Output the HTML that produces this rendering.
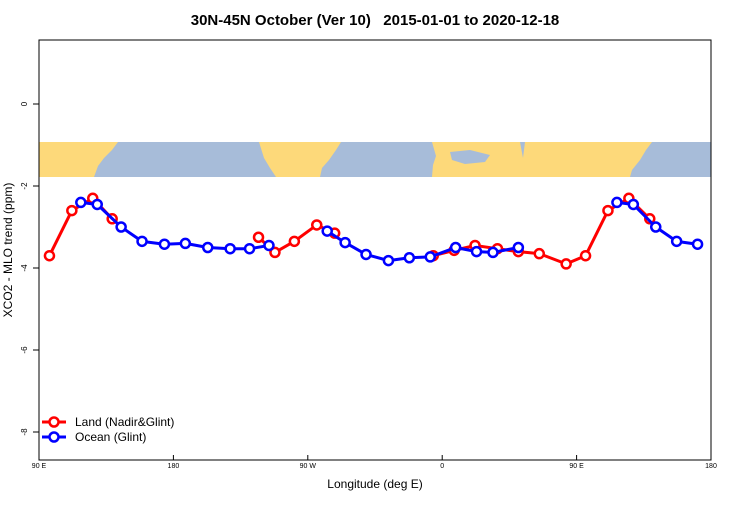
<!DOCTYPE html>
<html><head><meta charset="utf-8"><style>
body{margin:0;background:#fff}
svg{font-family:"Liberation Sans",sans-serif}
</style></head><body>
<svg width="750" height="500" viewBox="0 0 750 500">
<rect width="750" height="500" fill="#fff"/>
<text x="375" y="25" text-anchor="middle" font-size="15" font-weight="bold">30N-45N October (Ver 10)&#160;&#160; 2015-01-01 to 2020-12-18</text>
<g id="map">
<rect x="39" y="142" width="672" height="35" fill="#a7bcd9"/>
<path d="M39 142 H118 L112 150 L104 158 L98 166 L94 177 H39 Z" fill="#fdd97a"/>
<path d="M259 142 H341 L336 150 L329 160 L322 168 L320 177 H276 L270 168 L264 158 Z" fill="#fdd97a"/>
<path d="M432 142 H652 L646 150 L640 160 L632 170 L630 177 H432 L433 165 L436 156 Z" fill="#fdd97a"/>
<path d="M450 152 L470 150 L490 155 L485 162 L465 164 L452 160 Z" fill="#a7bcd9"/>
<path d="M520 142 L523 158 L525 142 Z" fill="#a7bcd9"/>
</g>
<rect x="39" y="40" width="672" height="420" fill="none" stroke="#000"/>
<g id="yaxis"></g>
<g id="xaxis"></g>
<text x="375" y="488" text-anchor="middle" font-size="12">Longitude (deg E)</text>
<text transform="translate(12,250) rotate(-90)" text-anchor="middle" font-size="12">XCO2 - MLO trend (ppm)</text>
<g id="series"></g>
<g>
<g>
<line x1="42" y1="422" x2="66" y2="422" stroke="#f00" stroke-width="3"/>
<circle cx="54" cy="422" r="4.5" fill="#fff" stroke="#f00" stroke-width="2.5"/>
<text x="75" y="426" font-size="12">Land (Nadir&amp;Glint)</text></g>
<g>
<line x1="42" y1="437" x2="66" y2="437" stroke="#00f" stroke-width="3"/>
<circle cx="54" cy="437" r="4.5" fill="#fff" stroke="#00f" stroke-width="2.5"/>
<text x="75" y="441" font-size="12">Ocean (Glint)</text></g>
</g>
</svg>
<script>
const yTicks=[0,-2,-4,-6,-8];
const xTicks=[90,180,270,360,450,540];
const xTickLabels=["90 E","180","90 W","0","90 E","180"];
// longitudes (deg, continuous 90..540) and values; null = gap
const landLon=[97,112,126,139,null,237,248,261,276,288,null,354,368,382,397,411,425,443,456,471,485,499];
const landVal=[-3.7,-2.6,-2.3,-2.8,null,-3.25,-3.62,-3.35,-2.95,-3.15,null,-3.7,-3.57,-3.45,-3.53,-3.6,-3.65,-3.9,-3.7,-2.6,-2.3,-2.8];
const oceanLon=[118,129,145,159,174,188,203,218,231,244,null,283,295,309,324,338,352,369,383,394,411,null,477,488,503,517,531];
const oceanVal=[-2.4,-2.45,-3.0,-3.35,-3.42,-3.4,-3.5,-3.53,-3.53,-3.45,null,-3.1,-3.38,-3.67,-3.82,-3.75,-3.73,-3.5,-3.6,-3.62,-3.5,null,-2.4,-2.45,-3.0,-3.35,-3.42];
const X=l=>39+(l-90)*672/450, Y=v=>104-v*41;
const NS="http://www.w3.org/2000/svg";
function mk(t,a,p){const e=document.createElementNS(NS,t);for(const k in a)e.setAttribute(k,a[k]);p.appendChild(e);return e;}
const ya=document.getElementById('yaxis');
yTicks.forEach(v=>{
 const l=mk('line',{x1:33,x2:39,y1:Y(v),y2:Y(v),stroke:'#000'},ya);
 
 
 const t=mk('text',{transform:`translate(27,${Y(v)}) rotate(-90)`,'text-anchor':'middle','font-size':8},ya);
 t.textContent=v;
 
 
});
const xa=document.getElementById('xaxis');
xTicks.forEach((v,i)=>{
 const l=mk('line',{x1:X(v),x2:X(v),y1:460,y2:455,stroke:'#000'},xa);
 
 
 const t=mk('text',{x:X(v),y:468,'text-anchor':'middle','font-size':7},xa);
 t.textContent=xTickLabels[i];
 
 
});
function series(lons,vals,col,name){
 const g=mk('g',{},document.getElementById('series'));
 
 
 let d='',pen=false;
 lons.forEach((l,i)=>{if(l===null){pen=false;return;}d+=(pen?'L':'M')+X(l)+' '+Y(vals[i])+' ';pen=true;});
 mk('path',{d:d,fill:'none',stroke:col,'stroke-width':3,'stroke-linejoin':'round'},g);
 lons.forEach((l,i)=>{if(l===null)return;
  const c=mk('circle',{cx:X(l),cy:Y(vals[i]),r:4.5,fill:'#fff',stroke:col,'stroke-width':2.5},g);
  
  });
}
series(landLon,landVal,'#f00','land-series');
series(oceanLon,oceanVal,'#00f','ocean-series');
</script>
</body></html>
